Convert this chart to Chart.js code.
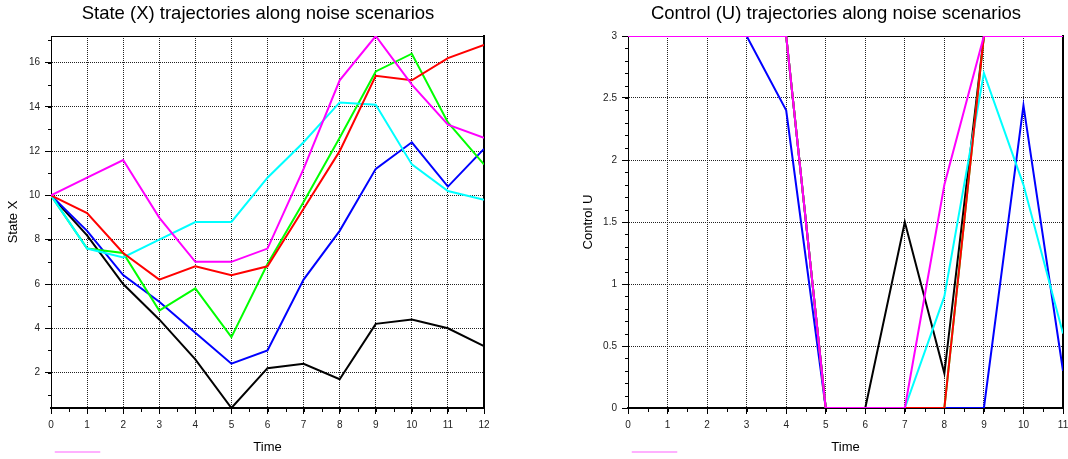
<!DOCTYPE html>
<html>
<head>
<meta charset="utf-8">
<script src="https://cdn.jsdelivr.net/npm/chart.js@4"></script>
<style>
html, body { margin: 0; padding: 0; background: #fff; overflow: hidden; width: 1068px; height: 459px; }
#wrap { position: relative; width: 1068px; height: 459px; overflow: hidden; background: #fff; }
.box { position: absolute; top: 0; height: 459px; }
</style>
</head>
<body>
<div id="wrap">
  <div class="box" style="left:0px;width:516px;"><canvas id="stateChart"></canvas></div>
  <div class="box" style="left:575px;width:522px;"><canvas id="controlChart"></canvas></div>
</div>
<script>
// ---------- data ----------
const stateTime   = [0, 1, 2, 3, 4, 5, 6, 7, 8, 9, 10, 11, 12];
const controlTime = [0, 1, 2, 3, 4, 5, 6, 7, 8, 9, 10, 11];

const stateBlack   = [10, 8.2, 6.0, 4.4, 2.6, 0.4, 2.2, 2.4, 1.7, 4.2, 4.4, 4.0, 3.2];
const stateBlue    = [10, 8.4, 6.4, 5.2, 3.8, 2.4, 3.0, 6.2, 8.4, 11.2, 12.4, 10.4, 12.1];
const stateGreen   = [10, 7.6, 7.4, 4.8, 5.8, 3.6, 6.9, 9.7, 12.6, 15.6, 16.4, 13.3, 11.4];
const stateCyan    = [10, 7.6, 7.2, 8.0, 8.8, 8.8, 10.8, 12.4, 14.2, 14.1, 11.4, 10.2, 9.8];
const stateRed     = [10, 9.2, 7.4, 6.2, 6.8, 6.4, 6.8, 9.4, 12.0, 15.4, 15.2, 16.2, 16.8];
const stateMagenta = [10, 10.8, 11.6, 9.0, 7.0, 7.0, 7.6, 11.2, 15.2, 17.2, 15.0, 13.2, 12.6];

const controlBlack   = [3, 3, 3, 3, 3, 0, 0, 1.5, 0.28, 3, 3, 3];
const controlBlue    = [3, 3, 3, 3, 2.4, 0, 0, 0, 0, 0, 2.44, 0.3];
const controlGreen   = [3, 3, 3, 3, 3, 0, 0, 0, 0, 3, 3, 3];
const controlCyan    = [3, 3, 3, 3, 3, 0, 0, 0, 0.9, 2.7, 1.8, 0.6];
const controlRed     = [3, 3, 3, 3, 3, 0, 0, 0, 0, 3, 3, 3];
const controlMagenta = [3, 3, 3, 3, 3, 0, 0, 0, 1.8, 3, 3, 3];

const stateXTicks   = [0, 1, 2, 3, 4, 5, 6, 7, 8, 9, 10, 11, 12];
const stateYTicks   = [2, 4, 6, 8, 10, 12, 14, 16];
const controlXTicks = [0, 1, 2, 3, 4, 5, 6, 7, 8, 9, 10, 11];
const controlYTicks = [0, 0.5, 1, 1.5, 2, 2.5, 3];

const seriesColors = {
  black: '#000000', blue: '#0000ff', green: '#00ff00',
  cyan: '#00ffff', red: '#ff0000', magenta: '#ff00ff'
};

// ---------- helpers ----------
Chart.defaults.font.family = "'Liberation Sans', Arial, sans-serif";
Chart.defaults.color = '#000';

const minorTicks = {
  id: 'minorTicks',
  beforeDatasetsDraw(chart, args, opts) {
    const ctx = chart.ctx;
    const xs = chart.scales.x, ys = chart.scales.y;
    ctx.save();
    ctx.strokeStyle = '#000';
    ctx.lineWidth = 1;
    ctx.beginPath();
    let k0 = Math.ceil(xs.min / opts.xStep - 1e-9);
    for (let k = k0; k * opts.xStep <= xs.max + 1e-9; k++) {
      const px = Math.round(xs.getPixelForValue(k * opts.xStep)) + 0.5;
      ctx.moveTo(px, xs.top);
      ctx.lineTo(px, xs.top + opts.xLen);
    }
    k0 = Math.ceil(ys.min / opts.yStep - 1e-9);
    for (let k = k0; k * opts.yStep <= ys.max + 1e-9; k++) {
      const py = Math.round(ys.getPixelForValue(k * opts.yStep)) + 0.5;
      ctx.moveTo(ys.right, py);
      ctx.lineTo(ys.right - opts.yLen, py);
    }
    ctx.stroke();
    ctx.restore();
  }
};

function line(data, color) {
  return {
    data: data, borderColor: color, backgroundColor: color,
    borderWidth: 2, pointRadius: 0, pointHoverRadius: 0, tension: 0, fill: false
  };
}

function makeChart(id, p) {
  const gridStyle = { color: '#222', lineWidth: 1, tickLength: 6, tickColor: '#000', tickWidth: 1 };
  return new Chart(document.getElementById(id), {
    type: 'line',
    data: { labels: p.labels, datasets: p.datasets },
    plugins: [minorTicks],
    options: {
      responsive: true,
      maintainAspectRatio: false,
      animation: false,
      devicePixelRatio: 1,
      layout: { padding: 0 },
      plugins: {
        title: {
          display: true, text: p.title, color: '#000',
          font: { size: 18.5, weight: 'normal' },
          padding: { top: 2.7, bottom: 11.1 }
        },
        legend: {
          display: true, position: 'bottom', align: 'start', fullSize: false, maxHeight: 12,
          onClick: null,
          labels: {
            boxWidth: 45, boxHeight: 1, padding: 4, font: { size: 2 },
            generateLabels: () => [{ text: '', fillStyle: '#ffb0ff', strokeStyle: '#ffb0ff', lineWidth: 1, hidden: false, datasetIndex: 0 }]
          }
        },
        tooltip: { enabled: false },
        minorTicks: p.minor
      },
      scales: {
        x: {
          type: 'linear', position: 'bottom', min: p.xMin, max: p.xMax,
          afterBuildTicks: s => { s.ticks = p.xTicks.map(v => ({ value: v })); },
          afterFit: s => { s.height = 39; },
          ticks: { font: { size: 10 }, color: '#222', padding: 5, autoSkip: false, maxRotation: 0, callback: v => String(v) },
          grid: gridStyle,
          border: { display: true, color: '#000', width: 2, dash: [1, 1] },
          title: { display: true, text: 'Time', color: '#000', font: { size: 13 }, padding: { top: 0, bottom: -7.8 } }
        },
        y: {
          type: 'linear', position: 'left', min: p.yMin, max: p.yMax,
          afterBuildTicks: s => { s.ticks = p.yTicks.map(v => ({ value: v })); },
          afterFit: s => { s.width = p.yWidth; },
          ticks: { font: { size: 10 }, color: '#222', padding: 5, autoSkip: false, callback: v => String(v) },
          grid: gridStyle,
          border: { display: true, color: '#000', width: 1, dash: [1, 1] },
          title: { display: true, text: p.yTitle, color: '#000', font: { size: 13 }, padding: { top: p.yTitlePad, bottom: 0 } }
        },
        x2: {
          type: 'linear', position: 'top', min: 0, max: 1,
          afterFit: s => { s.height = 0; },
          ticks: { display: false },
          grid: { drawOnChartArea: false, drawTicks: false },
          border: { display: true, color: '#000', width: 1 }
        },
        y2: {
          type: 'linear', position: 'right', min: 0, max: 1,
          afterFit: s => { s.width = p.rightWidth; },
          ticks: { display: false },
          grid: { drawOnChartArea: false, drawTicks: false },
          border: { display: true, color: '#000', width: 2 }
        }
      }
    }
  });
}

// datasets listed top-most first (Chart.js draws index 0 last)
makeChart('stateChart', {
  title: 'State (X) trajectories along noise scenarios',
  yTitle: 'State X', yTitlePad: 5.5, yWidth: 51, rightWidth: 32,
  labels: stateTime,
  xMin: 0, xMax: 12, yMin: 0.4, yMax: 17.2,
  xTicks: stateXTicks, yTicks: stateYTicks,
  minor: { xStep: 0.5, yStep: 1, xLen: 4, yLen: 3 },
  datasets: [
    line(stateMagenta, seriesColors.magenta),
    line(stateRed, seriesColors.red),
    line(stateCyan, seriesColors.cyan),
    line(stateGreen, seriesColors.green),
    line(stateBlue, seriesColors.blue),
    line(stateBlack, seriesColors.black)
  ]
});

makeChart('controlChart', {
  title: 'Control (U) trajectories along noise scenarios',
  yTitle: 'Control U', yTitlePad: 5.2, yWidth: 53, rightWidth: 34,
  labels: controlTime,
  xMin: 0, xMax: 11, yMin: 0, yMax: 3,
  xTicks: controlXTicks, yTicks: controlYTicks,
  minor: { xStep: 0.5, yStep: 0.1, xLen: 4, yLen: 3 },
  datasets: [
    line(controlMagenta, seriesColors.magenta),
    line(controlRed, seriesColors.red),
    line(controlCyan, seriesColors.cyan),
    line(controlGreen, seriesColors.green),
    line(controlBlue, seriesColors.blue),
    line(controlBlack, seriesColors.black)
  ]
});
</script>
</body>
</html>
